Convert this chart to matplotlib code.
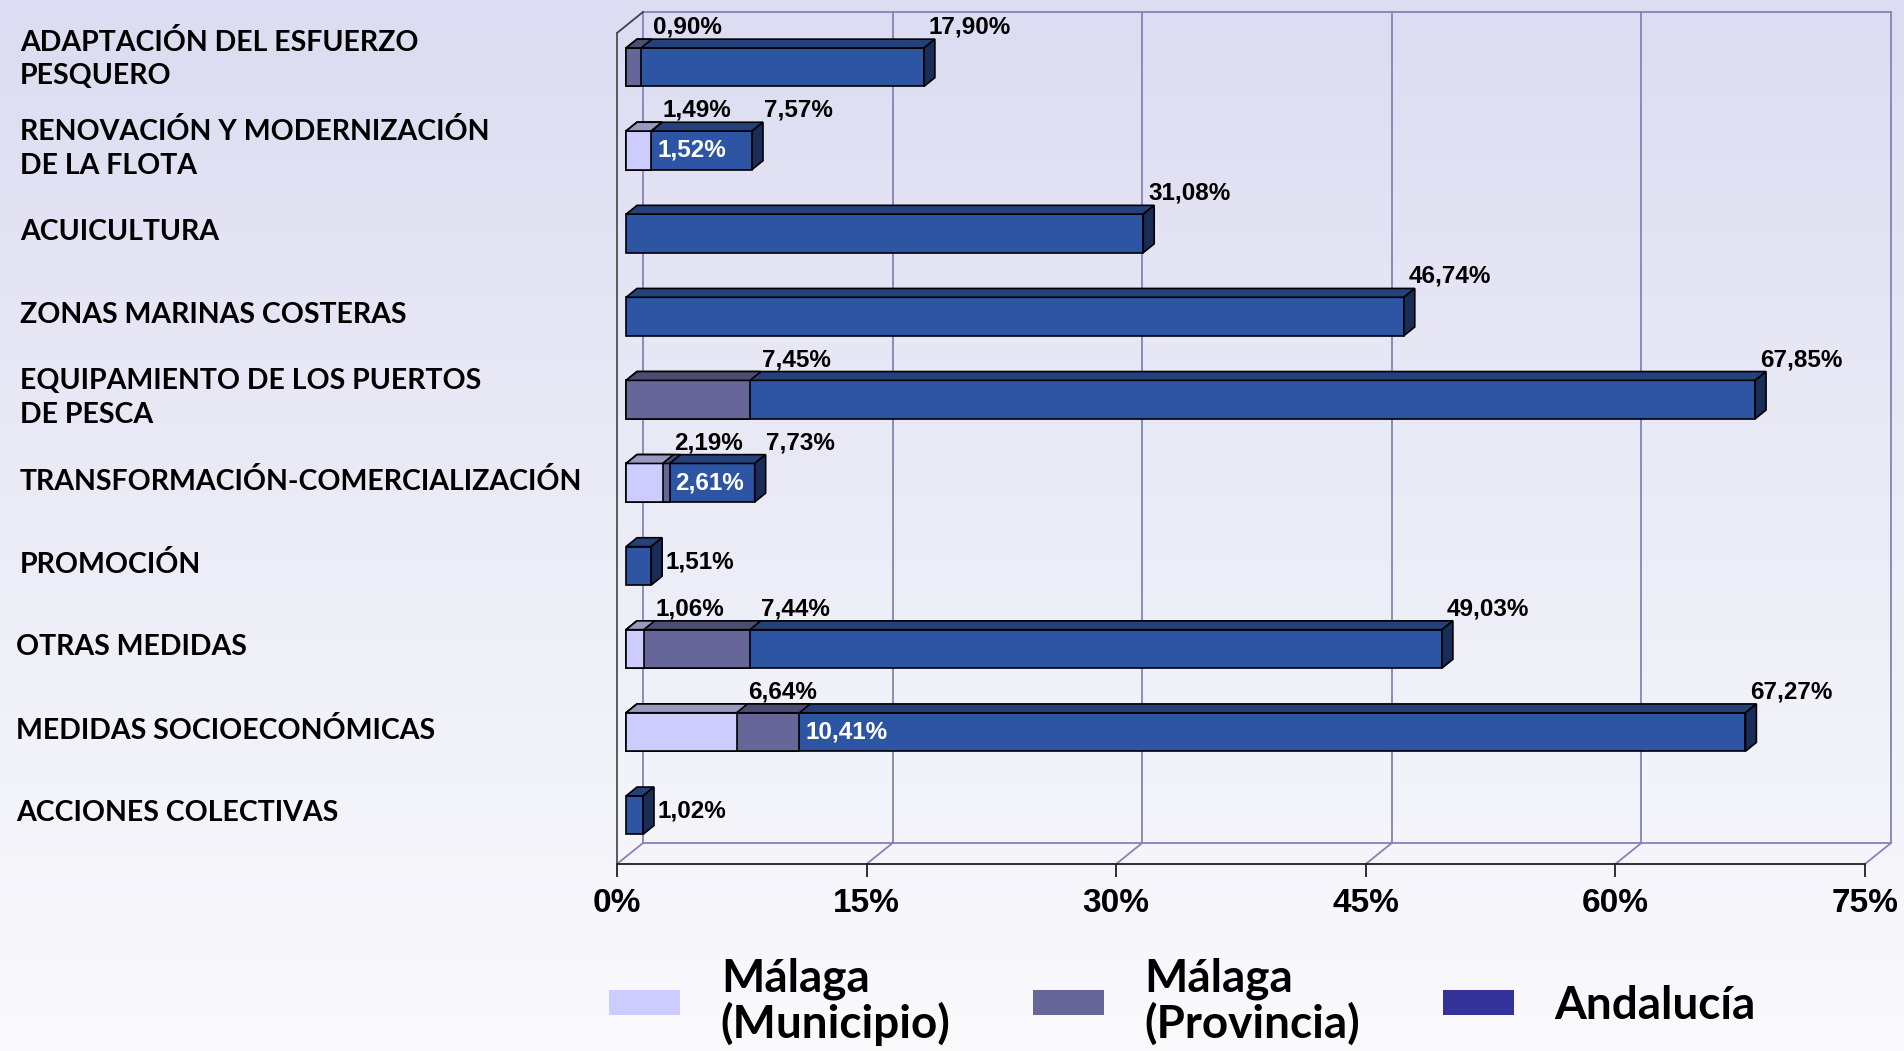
import numpy as np
import matplotlib
matplotlib.use("Agg")
import matplotlib.pyplot as plt
from matplotlib.patches import Polygon, Patch
from matplotlib.colors import LinearSegmentedColormap

nan = np.nan
categories = ["ADAPTACIÓN DEL ESFUERZO\nPESQUERO",
              "RENOVACIÓN Y MODERNIZACIÓN\nDE LA FLOTA",
              "ACUICULTURA",
              "ZONAS MARINAS COSTERAS",
              "EQUIPAMIENTO DE LOS PUERTOS\nDE PESCA",
              "TRANSFORMACIÓN-COMERCIALIZACIÓN",
              "PROMOCIÓN",
              "OTRAS MEDIDAS",
              "MEDIDAS SOCIOECONÓMICAS",
              "ACCIONES COLECTIVAS"]
municipio = [nan, 1.49, nan, nan, nan, 2.19, nan, 1.06, 6.64, nan]
provincia = [0.90, 1.52, nan, nan, 7.45, 2.61, nan, 7.44, 10.41, nan]
andalucia = [17.90, 7.57, 31.08, 46.74, 67.85, 7.73, 1.51, 49.03, 67.27, 1.02]
series_names = ["Málaga\n(Municipio)", "Málaga\n(Provincia)", "Andalucía"]
x_ticks = [0, 15, 30, 45, 60, 75]
x_tick_labels = ["0%", "15%", "30%", "45%", "60%", "75%"]

# label placement style per series
mode_mun = ["", "above", "", "", "", "above", "", "above", "above", ""]
mode_prov = ["above", "inside", "", "", "above", "inside", "", "above", "inside", ""]
mode_and = ["above", "above", "above", "above", "above", "above", "right", "above", "above", "right"]
# category label left edge (pixels) and vertical nudge (category units)
cat_x_px = [20, 20, 20, 20, 20, 20, 20, 16, 16, 16]
cat_dy = [-0.08, 0, 0, 0, 0, 0, 0, 0, 0, 0]

# colours: (front, top, side)
col_mun = ("#ccccff", "#9a9abf", "#7a7aa0")
col_prov = ("#666699", "#4d4d73", "#3a3a5a")
col_and = ("#2e55a3", "#25417a", "#1a2c58")
legend_colors = ["#ccccff", "#666699", "#333399"]

W, H = 1904, 1051
fig = plt.figure(figsize=(W / 100, H / 100), dpi=100)

# background gradient
bg = fig.add_axes([0, 0, 1, 1], zorder=-10)
cmap = LinearSegmentedColormap.from_list("bg", ["#dcdcf2", "#ececf7", "#fafafd"])
bg.imshow(np.linspace(0, 1, 256).reshape(-1, 1), aspect="auto", cmap=cmap,
          extent=[0, 1, 0, 1])
bg.set_axis_off()

x0px, x1px, ytop, ybot = 617, 1865, 33, 864
ax = fig.add_axes([x0px / W, 1 - ybot / H, (x1px - x0px) / W, (ybot - ytop) / H])
ax.set_facecolor("none")
ax.set_xlim(0, 75)
ax.set_ylim(9.5, -0.5)

# depth geometry (data units)
DX = 26 / (1248 / 75)
DY = -21 / 83.1
F0, F1 = 0.35, 0.77
BH = 0.463

wall = "#8484b4"
lw = 1.3
# back wall
ax.plot([DX, 75 + DX], [-0.5 + DY, -0.5 + DY], color=wall, lw=lw, clip_on=False, zorder=1)
ax.plot([DX, 75 + DX], [9.5 + DY, 9.5 + DY], color=wall, lw=lw, clip_on=False, zorder=1)
ax.plot([DX, DX], [-0.5 + DY, 9.5 + DY], color=wall, lw=lw, clip_on=False, zorder=1)
for t in x_ticks[1:]:
    ax.plot([t + DX, t + DX], [-0.5 + DY, 9.5 + DY], color=wall, lw=lw, clip_on=False, zorder=1)
for t in x_ticks:
    ax.plot([t, t + DX], [9.5, 9.5 + DY], color=wall, lw=lw, clip_on=False, zorder=1)
ax.plot([0, DX], [-0.5, -0.5 + DY], color="#404040", lw=lw, clip_on=False, zorder=1)

for s in ["top", "right"]:
    ax.spines[s].set_visible(False)
ax.spines["left"].set_color("#505050")
ax.spines["left"].set_linewidth(lw)
ax.spines["bottom"].set_color("#202020")
ax.spines["bottom"].set_linewidth(lw)
ax.set_yticks([])
ax.set_xticks(x_ticks)
ax.set_xticklabels(x_tick_labels, fontfamily="Liberation Sans", fontweight="bold", fontsize=24)
ax.tick_params(axis="x", length=9.4, width=lw, color="#202020", pad=8)


def box(x1, yc, cols, side):
    ox0, oy0 = F0 * DX, F0 * DY
    ox1, oy1 = F1 * DX, F1 * DY
    yt, yb = yc - BH / 2, yc + BH / 2
    front = [(ox0, yt + oy0), (x1 + ox0, yt + oy0), (x1 + ox0, yb + oy0), (ox0, yb + oy0)]
    top = [(ox0, yt + oy0), (x1 + ox0, yt + oy0), (x1 + ox1, yt + oy1), (ox1, yt + oy1)]
    kw = dict(edgecolor="black", lw=1.2, joinstyle="miter", zorder=3)
    ax.add_patch(Polygon(front, closed=True, facecolor=cols[0], **kw))
    ax.add_patch(Polygon(top, closed=True, facecolor=cols[1], **kw))
    if side:
        sd = [(x1 + ox0, yt + oy0), (x1 + ox1, yt + oy1), (x1 + ox1, yb + oy1), (x1 + ox0, yb + oy0)]
        ax.add_patch(Polygon(sd, closed=True, facecolor=cols[2], **kw))


def fmt(v):
    return f"{v:.2f}".replace(".", ",") + "%"


def label(v, i, mode):
    xy = (v + F0 * DX, i + F0 * DY)
    kw = dict(xycoords="data", textcoords="offset pixels", fontfamily="Liberation Sans",
              fontweight="bold", fontsize=17.5, zorder=5, annotation_clip=False)
    if mode == "above":
        ax.annotate(fmt(v), xy, xytext=(46, 40), ha="center", va="center", color="black", **kw)
    elif mode == "right":
        ax.annotate(fmt(v), xy, xytext=(14, 4), ha="left", va="center", color="black", **kw)
    elif mode == "inside":
        ax.annotate(fmt(v), xy, xytext=(6, 0), ha="left", va="center", color="white", **kw)


for i in range(len(categories)):
    vals = [(andalucia[i], col_and), (provincia[i], col_prov), (municipio[i], col_mun)]
    vals = [(v, c) for v, c in vals if not np.isnan(v)]
    vmax = max(v for v, _ in vals)
    for v, c in vals:
        box(v, i, c, side=(v == vmax))
    for arr, modes in ((municipio, mode_mun), (provincia, mode_prov), (andalucia, mode_and)):
        if not np.isnan(arr[i]) and modes[i]:
            label(arr[i], i, modes[i])

ytr = ax.get_yaxis_transform()
for i, cat in enumerate(categories):
    ax.text((cat_x_px[i] - x0px) / 1248, i + F0 * DY - 0.02 + cat_dy[i], cat, transform=ytr,
            ha="left", va="center", fontfamily="Lato", fontweight="bold", fontsize=20.5,
            linespacing=1.35, clip_on=False)

handles = [Patch(facecolor=c, edgecolor="none") for c in legend_colors]
leg = fig.legend(handles, series_names, loc="center", bbox_to_anchor=(0.621, 0.047),
                 ncol=3, frameon=False, prop=dict(family="Lato", weight="bold", size=33),
                 handlelength=1.55, handleheight=0.48, handletextpad=0.88, columnspacing=1.8,
                 labelspacing=0.2, borderpad=0.1)
for t in leg.get_texts():
    t.set_linespacing(1.05)

fig.savefig("out.png", dpi=100)
